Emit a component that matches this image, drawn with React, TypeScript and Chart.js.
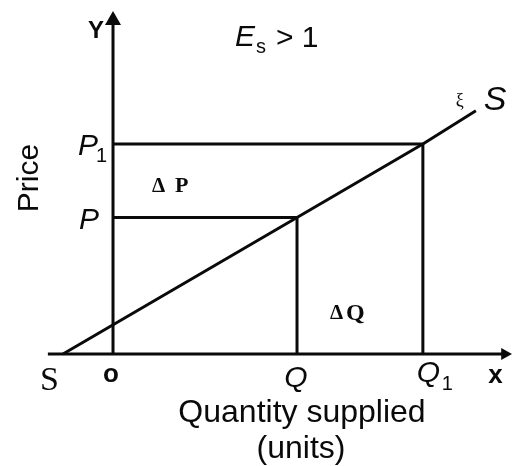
import React, { useEffect, useRef } from "react";
import { Chart, registerables } from "chart.js";

Chart.register(...registerables);

// Data (in abstract units)
const quantityTicks = ["o", "Q", "Q1"];
const quantityValues = [0, 5, 8.42]; // O, Q, Q1
const priceTicks = ["P", "P1"];
const priceValues = [3.9, 6.0]; // P, P1
const supplyQ = [-1.36, 5, 8.42, 9.86];
const supplyP = [0, 3.9, 6.0, 6.95];
const xAxisRange = [-1.77, 10.82];
const yAxisRange = [0, 9.77];
const scaleX = [-3.071, 10.842];
const scaleY = [-3.2, 10.114];

const INK = "#0a0a0a";

const labelPlugin = {
  id: "econLabels",
  afterDatasetsDraw(chart: any) {
    const { ctx, scales } = chart;
    const xs = scales.x;
    const ys = scales.y;
    const px = (v: number) => xs.getPixelForValue(v);
    const py = (v: number) => ys.getPixelForValue(v);
    const ox = px(0);
    const oy = py(0);
    ctx.save();
    ctx.fillStyle = INK;

    // arrowheads
    const xEnd = px(xAxisRange[1]);
    ctx.beginPath();
    ctx.moveTo(xEnd + 1, oy);
    ctx.lineTo(xEnd - 10, oy - 6);
    ctx.lineTo(xEnd - 10, oy + 6);
    ctx.closePath();
    ctx.fill();
    const yEnd = py(yAxisRange[1]);
    ctx.beginPath();
    ctx.moveTo(ox, yEnd - 1);
    ctx.lineTo(ox - 8, yEnd + 13);
    ctx.lineTo(ox + 8, yEnd + 13);
    ctx.closePath();
    ctx.fill();

    const sans = "'Liberation Sans', Arial, sans-serif";
    const serif = "'Liberation Serif', 'Times New Roman', serif";
    ctx.textBaseline = "alphabetic";

    // Y label
    ctx.font = `bold 24px ${sans}`;
    ctx.textAlign = "right";
    ctx.fillText("Y", ox - 9, yEnd + 26);

    // E_s > 1
    ctx.textAlign = "left";
    ctx.font = `italic 30px ${sans}`;
    ctx.fillText("E", 235, 46);
    ctx.font = `20px ${sans}`;
    ctx.fillText("s", 256, 53);
    ctx.font = `30px ${sans}`;
    ctx.fillText("> 1", 276, 47);

    // price ticks
    const pP = py(priceValues[0]);
    const pP1 = py(priceValues[1]);
    ctx.font = `italic 30px ${sans}`;
    ctx.textAlign = "right";
    ctx.fillText(priceTicks[1].charAt(0), ox - 15, pP1 + 11);
    ctx.font = `20px ${sans}`;
    ctx.textAlign = "left";
    ctx.fillText("1", ox - 17, pP1 + 18);
    ctx.font = `italic 30px ${sans}`;
    ctx.textAlign = "right";
    ctx.fillText(priceTicks[0], ox - 14, pP + 12);

    // Delta labels
    ctx.textAlign = "left";
    ctx.font = `bold 21px ${serif}`;
    ctx.fillText("Δ", ox + 39, pP - 25);
    ctx.font = `bold 22px ${serif}`;
    ctx.fillText("P", ox + 62, pP - 25);
    const qx = px(quantityValues[1]);
    const q1x = px(quantityValues[2]);
    ctx.font = `bold 21px ${serif}`;
    ctx.fillText("Δ", qx + 33, oy - 35);
    ctx.font = `bold 24px ${serif}`;
    ctx.fillText("Q", qx + 49, oy - 34);

    // supply labels
    ctx.font = `34px ${serif}`;
    ctx.fillText("S", px(supplyQ[0]) - 23, oy + 36);
    ctx.font = `italic 34px ${sans}`;
    ctx.fillText("S", px(supplyQ[3]) + 8, py(supplyP[3]) - 1);
    ctx.font = `18px ${serif}`;
    ctx.fillText("ξ", px(supplyQ[3]) - 20, py(supplyP[3]) - 5);

    // quantity ticks
    ctx.font = `bold 26px ${sans}`;
    ctx.textAlign = "center";
    ctx.fillText(quantityTicks[0], ox - 2, oy + 28);
    ctx.font = `italic 30px ${sans}`;
    ctx.fillText(quantityTicks[1], qx - 1, oy + 33);
    ctx.textAlign = "left";
    ctx.fillText("Q", q1x - 6, oy + 28);
    ctx.font = `20px ${sans}`;
    ctx.fillText("1", q1x + 19, oy + 36);
    ctx.font = `bold 26px ${sans}`;
    ctx.fillText("x", xEnd - 23, oy + 29);

    // axis titles
    ctx.textAlign = "center";
    ctx.font = `32px ${sans}`;
    ctx.fillText("Quantity supplied", 302, 422);
    ctx.fillText("(units)", 301, 458);
    ctx.save();
    ctx.translate(38, 178);
    ctx.rotate(-Math.PI / 2);
    ctx.font = `30px ${sans}`;
    ctx.fillText("Price", 0, 0);
    ctx.restore();

    ctx.restore();
  },
};

function seg(x0: number, y0: number, x1: number, y1: number) {
  return [
    { x: x0, y: y0 },
    { x: x1, y: y1 },
  ];
}

export default function App() {
  const ref = useRef<HTMLCanvasElement>(null);
  useEffect(() => {
    if (!ref.current) return;
    const line = (data: any[]) => ({
      data,
      showLine: true,
      borderColor: INK,
      borderWidth: 3,
      pointRadius: 0,
      tension: 0,
      borderCapStyle: "butt",
      fill: false,
    });
    const supply = supplyQ.map((q, i) => ({ x: q, y: supplyP[i] }));
    const chart = new Chart(ref.current, {
      type: "scatter",
      data: {
        datasets: [
          line(seg(xAxisRange[0], 0, xAxisRange[1] - 8 / 36.8, 0)),
          line(seg(0, yAxisRange[0], 0, yAxisRange[1] - 10 / 35)),
          line(seg(0, priceValues[1], quantityValues[2], priceValues[1])),
          line(seg(0, priceValues[0], quantityValues[1], priceValues[0])),
          line(seg(quantityValues[1], 0, quantityValues[1], priceValues[0])),
          line(seg(quantityValues[2], 0, quantityValues[2], priceValues[1])),
          line(supply),
        ] as any,
      },
      options: {
        responsive: false,
        animation: false,
        layout: { padding: 0 },
        plugins: {
          legend: { display: false },
          tooltip: { enabled: false },
        },
        scales: {
          x: { type: "linear", display: false, min: scaleX[0], max: scaleX[1] },
          y: { type: "linear", display: false, min: scaleY[0], max: scaleY[1] },
        },
      },
      plugins: [labelPlugin],
    });
    return () => chart.destroy();
  }, []);
  return (
    <div style={{ position: "fixed", left: 0, top: 0, width: 512, height: 466, background: "#fff" }}>
      <canvas ref={ref} width={512} height={466} />
    </div>
  );
}
